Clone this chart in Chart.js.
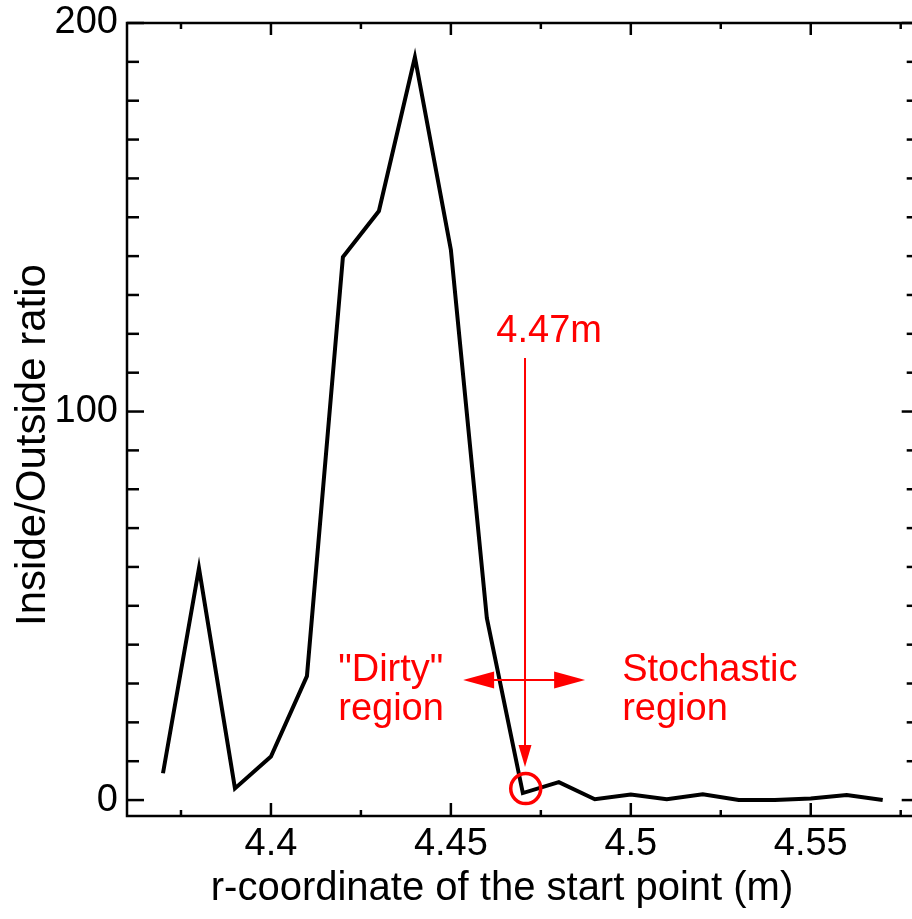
<!DOCTYPE html>
<html><head><meta charset="utf-8">
<script src="https://cdn.jsdelivr.net/npm/chart.js@4/dist/chart.umd.min.js"></script>
<style>
html,body{margin:0;padding:0;overflow:hidden;background:#fff;width:912px;height:919px}
canvas{position:absolute;left:0;top:0}
</style></head>
<body>
<canvas id="c" width="930" height="919" style="width:930px;height:919px"></canvas>
<script>
// ---- data ----
const rValues = [4.37, 4.38, 4.39, 4.40, 4.41, 4.42, 4.43, 4.44, 4.45, 4.46, 4.47,
                 4.48, 4.49, 4.50, 4.51, 4.52, 4.53, 4.54, 4.55, 4.56, 4.57];
const ratioValues = [6.9, 59.7, 3.0, 11.2, 31.9, 139.8, 151.6, 191.2, 141.6, 46.8, 1.8,
                     4.6, 0.2, 1.4, 0.2, 1.5, 0.0, 0.0, 0.4, 1.3, 0.0];
const xMajorTicks = [4.4, 4.45, 4.5, 4.55];
const xMinorTicks = [4.375, 4.425, 4.475, 4.525, 4.575];
const yMajorTicks = [0, 100, 200];
const yMinorTicks = [10, 20, 30, 40, 50, 60, 70, 80, 90, 110, 120, 130, 140, 150, 160, 170, 180, 190];
const xTitle = 'r-coordinate of the start point (m)';
const yTitle = 'Inside/Outside ratio';
const markLabel = '4.47m';
const dirtyLabel = ['"Dirty"', 'region'];
const stochLabel = ['Stochastic', 'region'];

const FONT = '"Liberation Sans", Arial, Helvetica, sans-serif';
const RED = '#ff0000';

const framePlugin = {
  id: 'frame',
  afterDraw(chart) {
    const {ctx, chartArea: a, scales: {x, y}} = chart;
    const line = (x1, y1, x2, y2) => { ctx.beginPath(); ctx.moveTo(x1, y1); ctx.lineTo(x2, y2); ctx.stroke(); };
    ctx.save();
    ctx.strokeStyle = '#000';
    ctx.lineWidth = 2.5;
    ctx.lineCap = 'butt';
    ctx.strokeRect(a.left, a.top, a.right - a.left, a.bottom - a.top);
    yMajorTicks.forEach(v => { const p = y.getPixelForValue(v); line(a.left, p, a.left + 17, p); line(a.right, p, a.right - 17, p); });
    yMinorTicks.forEach(v => { const p = y.getPixelForValue(v); line(a.left, p, a.left + 12, p); line(a.right, p, a.right - 12, p); });
    xMajorTicks.forEach(v => { const p = x.getPixelForValue(v); line(p, a.bottom, p, a.bottom - 13); line(p, a.top, p, a.top + 12); });
    xMinorTicks.forEach(v => { const p = x.getPixelForValue(v); line(p, a.bottom, p, a.bottom - 6); line(p, a.top, p, a.top + 6); });

    // axis titles
    ctx.fillStyle = '#000';
    ctx.font = '40px ' + FONT;
    ctx.textAlign = 'center';
    ctx.textBaseline = 'alphabetic';
    ctx.fillText(xTitle, 502, 900);
    ctx.save();
    ctx.translate(45, 445);
    ctx.rotate(-Math.PI / 2);
    ctx.font = '42px ' + FONT;
    ctx.fillText(yTitle, 0, 0);
    ctx.restore();

    // annotations (anchored to data coordinates)
    const px = v => x.getPixelForValue(v), py = v => y.getPixelForValue(v);
    ctx.strokeStyle = RED; ctx.fillStyle = RED;
    ctx.font = '38px ' + FONT;
    ctx.textAlign = 'center';
    ctx.fillText(markLabel, px(4.4773), py(117.9));
    ctx.textAlign = 'left';
    ctx.fillText(dirtyLabel[0], px(4.4187), py(30.7));
    ctx.fillText(dirtyLabel[1], px(4.4187), py(20.6));
    ctx.fillText(stochLabel[0], px(4.4976), py(30.7));
    ctx.fillText(stochLabel[1], px(4.4976), py(20.6));

    // vertical arrow
    const vx = px(4.4706), vTop = py(113.8), vTip = py(8.5);
    ctx.lineWidth = 2;
    line(vx, vTop, vx, vTip - 20);
    ctx.beginPath(); ctx.moveTo(vx, vTip); ctx.lineTo(vx - 6.5, vTip - 22); ctx.lineTo(vx + 6.5, vTip - 22); ctx.closePath(); ctx.fill();
    // horizontal double arrow
    const hy = py(30.9), hl = px(4.4534), hr = px(4.4873);
    line(hl + 25, hy, hr - 25, hy);
    ctx.beginPath(); ctx.moveTo(hl, hy); ctx.lineTo(hl + 31, hy - 8.5); ctx.lineTo(hl + 31, hy + 8.5); ctx.closePath(); ctx.fill();
    ctx.beginPath(); ctx.moveTo(hr, hy); ctx.lineTo(hr - 31, hy - 8.5); ctx.lineTo(hr - 31, hy + 8.5); ctx.closePath(); ctx.fill();
    // circle
    ctx.lineWidth = 3.5;
    ctx.beginPath(); ctx.arc(px(4.4708), py(2.96), 15, 0, Math.PI * 2); ctx.stroke();
    ctx.restore();
  }
};

new Chart(document.getElementById('c'), {
  type: 'line',
  data: {
    datasets: [{
      data: rValues.map((r, i) => ({x: r, y: ratioValues[i]})),
      borderColor: '#000',
      borderWidth: 4,
      pointRadius: 0,
      tension: 0,
      fill: false
    }]
  },
  options: {
    responsive: false,
    animation: false,
    devicePixelRatio: 1,
    layout: {padding: {top: 23, right: 11.3, left: 0, bottom: 0}},
    plugins: {legend: {display: false}, tooltip: {enabled: false}},
    scales: {
      x: {
        type: 'linear', min: 4.36, max: 4.58,
        grid: {display: false, drawTicks: false},
        border: {display: false},
        afterFit: s => { s.height = 103; s.paddingLeft = 0; s.paddingRight = 0; },
        afterBuildTicks: s => { s.ticks = xMajorTicks.map(v => ({value: v})); },
        ticks: {padding: 6, color: '#000', font: {family: FONT, size: 38}, maxRotation: 0, autoSkip: false,
                callback: v => String(v)}
      },
      y: {
        type: 'linear', min: -4.1, max: 200,
        grid: {display: false, drawTicks: false},
        border: {display: false},
        afterFit: s => { s.width = 127; s.paddingTop = 0; s.paddingBottom = 0; },
        afterBuildTicks: s => { s.ticks = yMajorTicks.map(v => ({value: v})); },
        ticks: {padding: 9, color: '#000', font: {family: FONT, size: 38}, autoSkip: false,
                callback: v => String(v)}
      }
    }
  },
  plugins: [framePlugin]
});
</script>
</body></html>
